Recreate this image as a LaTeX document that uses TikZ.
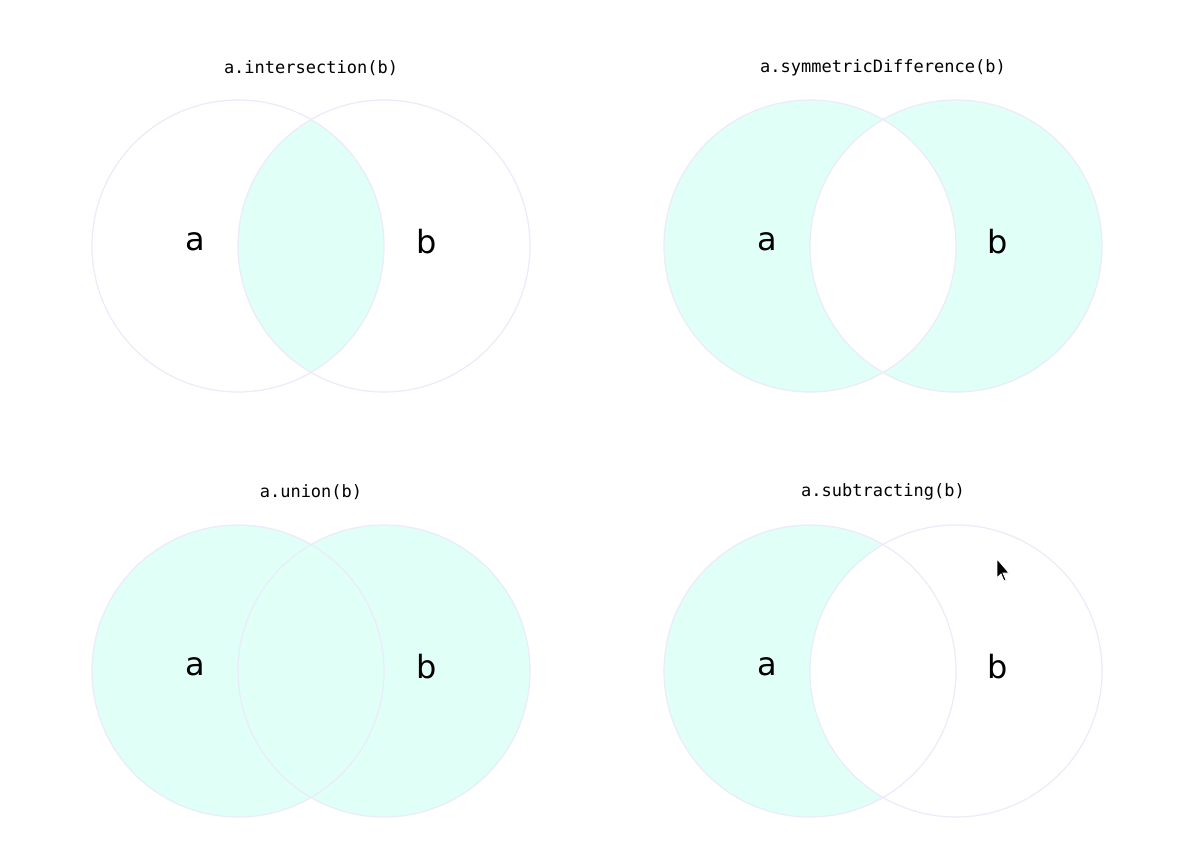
\documentclass[tikz,border=0pt]{standalone}
\usepackage{fontspec}
\setmainfont{DejaVu Sans}
\newfontfamily\codefont{DejaVu Sans Mono}
\begin{document}
\begin{tikzpicture}[x=1pt,y=-1pt,
  ring/.style={draw=black!22!blue!8!white, line width=1.2pt},
  reg/.style={fill=green!30!cyan!12!white},
  lbl/.style={font=\fontsize{32}{36}\selectfont},
  ttl/.style={font=\codefont\fontsize{17}{20}\selectfont}]
\useasboundingbox[fill=white] (0,0) rectangle (1204,848);
\def\R{146}
% top-left: intersection
\begin{scope}
\clip (238,246) circle (\R);
\fill[reg] (384,246) circle (\R);
\end{scope}
% top-right: symmetric difference
\fill[reg,even odd rule] (810,246) circle (\R) (956,246) circle (\R);
% bottom-left: union
\fill[reg] (238,671) circle (\R) (384,671) circle (\R);
% bottom-right: subtracting
\fill[reg] (810,671) circle (\R);
\fill[white] (956,671) circle (\R);
% outlines
\foreach \x/\y in {238/246,384/246,810/246,956/246,238/671,384/671,810/671,956/671}
  \draw[ring] (\x,\y) circle (\R);
% labels
\node[lbl] (a1) at (195,242) {a}; \node[lbl] (b1) at (427,242) {b};
\node[lbl] (a2) at (767,242) {a}; \node[lbl] (b2) at (998,242) {b};
\node[lbl] (a3) at (195,667) {a}; \node[lbl] (b3) at (427,667) {b};
\node[lbl] (a4) at (767,667) {a}; \node[lbl] (b4) at (998,667) {b};
\node[ttl] (t1) at (311,68) {a.intersection(b)};
\node[ttl] (t2) at (883,68) {a.symmetricDifference(b)};
\node[ttl] (t3) at (311,492) {a.union(b)};
\node[ttl] (t4) at (883,492) {a.subtracting(b)};
% cursor
\fill[black, draw=white, line width=0.8pt] (997,559) -- (997,578) -- (1001,574) -- (1004,581) -- (1006,580) -- (1003,573) -- (1009,573) -- cycle;
\end{tikzpicture}
\end{document}
